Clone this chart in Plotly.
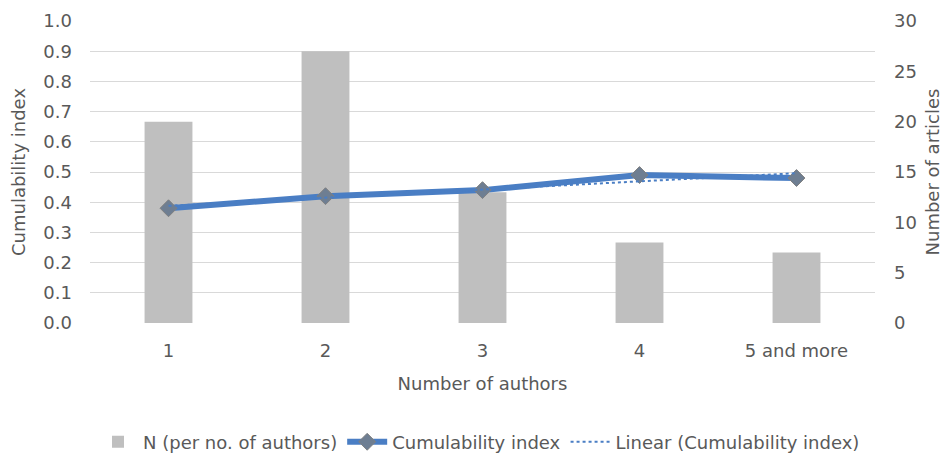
import numpy as np
import plotly.graph_objects as go

categories = ["1", "2", "3", "4", "5 and more"]
n_articles = [20, 27, 13, 8, 7]
cumulability = [0.38, 0.42, 0.44, 0.49, 0.48]

# Linear trendline (least-squares fit of the cumulability index)
xi = np.arange(1, len(categories) + 1)
slope, intercept = np.polyfit(xi, cumulability, 1)
trend = list(slope * xi + intercept)

FONT = "DejaVu Sans, Liberation Sans, Arial, sans-serif"
TXT = "#595959"
FS = 18

fig = go.Figure()
# bars on the primary (right-side) axis so the line overlays them
fig.add_trace(go.Bar(
    x=categories, y=n_articles, name="N (per no. of authors)",
    marker=dict(color="#BFBFBF", line=dict(width=0)),
    width=0.305, yaxis="y",
))
fig.add_trace(go.Scatter(
    x=categories, y=cumulability, name="Cumulability index",
    mode="lines+markers",
    line=dict(color="#4A7EC4", width=6),
    marker=dict(symbol="diamond", size=13, color="#6E7E92",
                line=dict(color="#808080", width=1)),
    yaxis="y2",
))
fig.add_trace(go.Scatter(
    x=categories, y=trend, name="Linear (Cumulability index)",
    mode="lines", line=dict(color="#4A7EC4", width=2, dash="dot"),
    yaxis="y2",
))

# page body has an 8px margin, so the figure is 942x455 placed at (8, 8)
fig.update_layout(
    width=942, height=455,
    margin=dict(l=82, r=75, t=13, b=140, autoexpand=False),
    paper_bgcolor="white", plot_bgcolor="white",
    font=dict(family=FONT, size=FS, color=TXT),
    showlegend=True,
    legend=dict(orientation="h", xref="container", yref="container",
                x=0.5, xanchor="center", y=0.046, yanchor="middle",
                font=dict(size=FS, color=TXT), traceorder="normal", itemwidth=40),
    xaxis=dict(
        automargin=False,
        title=dict(text="Number of authors", standoff=17, font=dict(size=FS, color=TXT)),
        showgrid=False, showline=False, zeroline=False,
        tickfont=dict(size=FS, color=TXT), ticklabelstandoff=15,
    ),
    yaxis=dict(
        automargin=False,
        title=dict(text="Number of articles", standoff=10, font=dict(size=FS, color=TXT)),
        side="right",
        range=[0, 30], dtick=5,
        showgrid=False, zeroline=False, showline=False,
        tickfont=dict(size=FS, color=TXT), ticklabelstandoff=18,
    ),
    yaxis2=dict(
        automargin=False,
        title=dict(text="Cumulability index", standoff=13, font=dict(size=FS, color=TXT)),
        overlaying="y", side="left",
        range=[0, 1.0], dtick=0.1, tickformat=".1f",
        showgrid=True, gridcolor="#D9D9D9", gridwidth=1,
        zeroline=False, showline=False,
        tickfont=dict(size=FS, color=TXT), ticklabelstandoff=17,
    ),
)

fig.write_html("out.html")
